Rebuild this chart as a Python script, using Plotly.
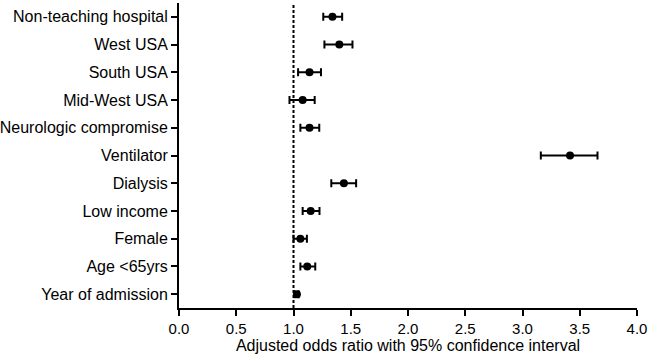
import plotly.graph_objects as go

labels = ["Non-teaching hospital", "West USA", "South USA", "Mid-West USA",
          "Neurologic compromise", "Ventilator", "Dialysis", "Low income",
          "Female", "Age <65yrs", "Year of admission"]
odds = [1.34, 1.40, 1.14, 1.08, 1.14, 3.415, 1.44, 1.15, 1.06, 1.12, 1.03]
ci_low = [1.26, 1.27, 1.04, 0.965, 1.06, 3.16, 1.33, 1.08, 1.00, 1.06, 1.01]
ci_high = [1.425, 1.515, 1.24, 1.185, 1.225, 3.655, 1.547, 1.227, 1.117, 1.19, 1.045]
x_ticks = [0.0, 0.5, 1.0, 1.5, 2.0, 2.5, 3.0, 3.5, 4.0]

err_plus = [h - o for h, o in zip(ci_high, odds)]
err_minus = [o - l for o, l in zip(odds, ci_low)]

font = "Liberation Sans, Arial, sans-serif"

fig = go.Figure()
fig.add_trace(go.Scatter(
    x=odds, y=labels, mode="markers",
    marker=dict(color="black", size=8),
    error_x=dict(type="data", symmetric=False, array=err_plus, arrayminus=err_minus,
                 color="black", thickness=2, width=4),
    showlegend=False, cliponaxis=False,
))

fig.add_shape(type="line", xref="x", yref="paper", x0=1, x1=1, y0=0, y1=1,
              line=dict(color="black", width=2, dash="3px,2px"))

fig.update_layout(
    width=650, height=359,
    margin=dict(l=179, r=13, t=3, b=51, autoexpand=False),
    plot_bgcolor="white", paper_bgcolor="white",
    font=dict(family=font, color="black", size=16),
    xaxis=dict(range=[0, 4.0], tickvals=x_ticks, ticktext=[f"{v:.1f}" for v in x_ticks],
               showgrid=False, zeroline=False, showline=True, linecolor="black", linewidth=2,
               ticks="outside", ticklen=6, tickwidth=2, tickcolor="black",
               automargin=False, ticklabeloverflow="allow",
               tickfont=dict(size=15, family=font, color="black"),
               title=dict(text="Adjusted odds ratio with 95% confidence interval",
                          font=dict(size=16, family=font, color="black"), standoff=4)),
    yaxis=dict(type="category", categoryorder="array", categoryarray=labels,
               range=[10.5, -0.5], showgrid=False, zeroline=False,
               showline=True, linecolor="black", linewidth=2, automargin=False,
               ticks="outside", ticklen=6, tickwidth=2, tickcolor="black",
               tickfont=dict(size=16, family=font, color="black")),
)

fig.write_html("out.html", config={"displayModeBar": False},
               post_script="document.body.style.margin='0';document.body.style.padding='0';")
